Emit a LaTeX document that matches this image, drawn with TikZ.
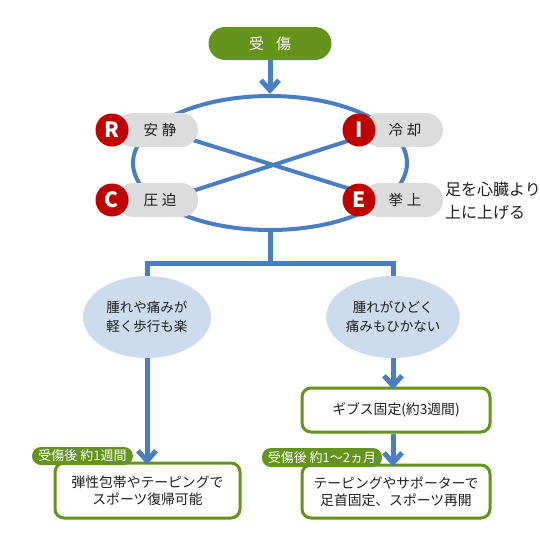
\documentclass[tikz,border=0pt]{standalone}
\usepackage{fontspec}
\setmainfont{Noto Sans CJK JP}
\usetikzlibrary{arrows.meta,shapes.geometric}
\definecolor{blu}{HTML}{4A7EC2}
\definecolor{lblu}{HTML}{CCDCEE}
\definecolor{grn}{HTML}{64941C}
\definecolor{gry}{HTML}{DCDCDC}
\definecolor{rd}{HTML}{C00000}
\definecolor{txt}{HTML}{1E1E1E}
\begin{document}
\begin{tikzpicture}[x=1pt,y=-1pt,
  toppill/.style={fill=grn, rounded corners=16.5pt, minimum width=123pt, minimum height=33pt, inner sep=0pt, text=white, font=\fontsize{15}{15}\selectfont},
  cyc/.style={draw=blu, line width=4pt, ellipse, inner sep=0pt},
  graypill/.style={fill=gry, rounded corners=17pt, minimum height=34pt, inner sep=0pt, text=txt, font=\fontsize{14.5}{15}\selectfont},
  letter/.style={circle, fill=rd, minimum size=33pt, inner sep=0pt, text=white, font=\fontsize{21}{21}\selectfont\bfseries},
  cross/.style={draw=blu, line width=4pt},
  note/.style={anchor=west, align=left, inner sep=0pt, text=txt, font=\fontsize{16}{23}\selectfont},
  tree/.style={draw=blu, line width=5pt, miter limit=10},
  arr/.style={draw=blu, line width=5pt, -{Straight Barb[length=10pt,width=18pt]}},
  cond/.style={ellipse, fill=lblu, minimum width=128pt, minimum height=82pt, inner sep=0pt, align=center, text=txt, font=\fontsize{13.5}{19}\selectfont},
  gbox/.style={draw=grn, line width=3pt, rounded corners=9pt, fill=white, inner sep=0pt, align=center, text=txt, font=\fontsize{13.8}{17}\selectfont},
  tag/.style={fill=grn, rounded corners=9pt, inner sep=0pt, text=white, font=\fontsize{13}{13}\selectfont}
]
\useasboundingbox (0,0) rectangle (540,550);

% top
\node[toppill] (injury) at (270,43.5) {受\hspace{12pt}傷};

% RICE cycle
\node[cyc, minimum width=274pt, minimum height=134pt] (cyc) at (270,163) {};
\draw[arr] (injury.south) -- (cyc.north);

\coordinate (a1) at (180,136);
\coordinate (a2) at (360,192);
\coordinate (b1) at (180,195);
\coordinate (b2) at (360,137);
\draw[cross] (a1) -- (a2);
\draw[cross] (b1) -- (b2);

\node[graypill, minimum width=82pt] (Rp) at (157,130) {\hspace{6pt}安\hspace{4pt}静};
\node[graypill, minimum width=82pt] (Cp) at (157,200) {\hspace{6pt}圧\hspace{4pt}迫};
\node[graypill, minimum width=80pt] (Ip) at (403,130) {\hspace{4pt}冷\hspace{4pt}却};
\node[graypill, minimum width=80pt] (Ep) at (403,200) {\hspace{4pt}挙\hspace{4pt}上};
\node[letter] (R) at (112,130) {R};
\node[letter] (C) at (112,200) {C};
\node[letter] (I) at (359,130) {I};
\node[letter] (E) at (359,200) {E};

\node[note] (elev) at (445,201) {足を心臓より\\上に上げる};

% branching
\node[cond] (L) at (147,317) {腫れや痛みが\\軽く歩行も楽};
\node[cond] (Rt) at (393,317) {腫れがひどく\\痛みもひかない};
\coordinate (j) at (270,263);
\coordinate (jl) at (147,263);
\coordinate (jr) at (393,263);
\draw[tree] (cyc.south) -- (j);
\draw[tree] (L.north) -- (jl) -- (jr) -- (Rt.north);

% boxes
\node[gbox, minimum width=185pt, minimum height=55pt] (b1x) at (147.5,490.5) {弾性包帯やテーピングで\\スポーツ復帰可能};
\node[gbox, minimum width=188pt, minimum height=44pt] (gips) at (396,410) {ギブス固定(約3週間)};
\node[gbox, minimum width=188pt, minimum height=53pt] (b2x) at (396,491.5) {テーピングやサポーターで\\足首固定、スポーツ再開};

\node[tag, minimum width=101pt, minimum height=18pt] (t1) at (82.5,456) {受傷後 約1週間};
\node[tag, minimum width=120pt, minimum height=19pt] (t2) at (322,457.5) {受傷後 約1～2ヵ月};

\draw[arr] (L.south) -- ([yshift=-3pt]L.south |- b1x.north);
\draw[arr] (Rt.south) -- ([yshift=-3pt]Rt.south |- gips.north);
\draw[arr] (Rt.south |- gips.south) -- ([yshift=-3pt]Rt.south |- b2x.north);
\end{tikzpicture}
\end{document}
